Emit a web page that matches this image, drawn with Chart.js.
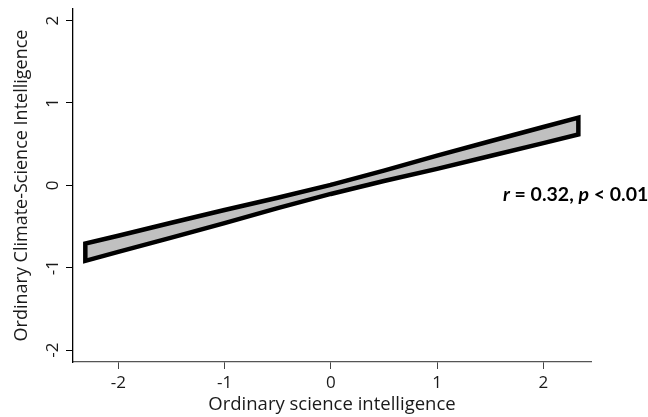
<!DOCTYPE html>
<html><head><meta charset="utf-8">
<script src="https://cdn.jsdelivr.net/npm/chart.js@4"></script>
<style>html,body{margin:0;padding:0;background:#fff}#wrap{width:648px;height:417px;position:relative}</style>
</head><body><div id="wrap"><canvas id="c"></canvas></div>
<script>
// Confidence band
const bandX  = [-2.31, -2, -1.5, -1, -0.5, 0, 0.5, 1, 1.5, 2, 2.33];
const upperY = [-0.707, -0.612, -0.455, -0.30, -0.152, 0.005, 0.178, 0.36, 0.535, 0.708, 0.822];
const lowerY = [-0.917, -0.808, -0.635, -0.46, -0.278, -0.105, 0.052, 0.20, 0.355, 0.512, 0.616];
const xTicks = [-2, -1, 0, 1, 2];
const yTicks = [-2, -1, 0, 1, 2];
const xLabel = 'Ordinary science intelligence';
const yLabel = 'Ordinary Climate-Science Intelligence';
const annParts = ['r', ' = 0.32, ', 'p', ' < 0.01'];
const annItalic = [true, false, true, false];
const annPos = [1.62, -0.13];

const upperPts = bandX.map((x, i) => ({x, y: upperY[i]}));
const lowerPts = bandX.map((x, i) => ({x, y: lowerY[i]}));
const mid = Math.floor(bandX.length / 2);
const outline = [...upperPts.slice(mid), ...lowerPts.slice().reverse(), ...upperPts.slice(0, mid + 1)];

const annPlugin = {
  id: 'ann',
  afterDraw(chart) {
    const {ctx, scales: {x, y}} = chart;
    let px = x.getPixelForValue(annPos[0]);
    const py = y.getPixelForValue(annPos[1]);
    ctx.save();
    ctx.fillStyle = '#000';
    ctx.textBaseline = 'middle';
    ctx.textAlign = 'left';
    annParts.forEach((t, i) => {
      ctx.font = (annItalic[i] ? 'italic ' : '') + 'bold 19.5px Lato';
      ctx.fillText(t, px, py - 1);
      px += ctx.measureText(t).width;
    });
    ctx.restore();
  }
};

new Chart(document.getElementById('c'), {
  type: 'scatter',
  data: {
    datasets: [
      {data: upperPts, showLine: true, borderWidth: 0, pointRadius: 0, fill: '+1', backgroundColor: '#c0c0c0', borderColor: 'rgba(0,0,0,0)', order: 2},
      {data: lowerPts, showLine: true, borderWidth: 0, pointRadius: 0, fill: false, borderColor: 'rgba(0,0,0,0)', order: 3},
      {data: outline, showLine: true, borderWidth: 4.5, borderColor: '#000', borderJoinStyle: 'miter', borderCapStyle: 'round', pointRadius: 0, fill: false, order: 0}
    ]
  },
  options: {
    responsive: true,
    maintainAspectRatio: false,
    animation: false,
    layout: {padding: {top: 9, right: 57, left: 0, bottom: 0}},
    plugins: {legend: {display: false}, tooltip: {enabled: false}},
    scales: {
      x: {
        type: 'linear', min: -2.426, max: 2.449,
        afterBuildTicks: s => { s.ticks = xTicks.map(v => ({value: v})); },
        afterFit: s => { s.height = 55; s.paddingLeft = 0; s.paddingRight = 0; },
        ticks: {font: {family: 'Open Sans', size: 17}, color: '#1a1a1a', padding: 4},
        grid: {drawOnChartArea: false, drawTicks: true, tickLength: 7, color: '#444'},
        border: {display: true, color: '#555', width: 1.3},
        title: {display: true, text: xLabel, font: {family: 'Open Sans', size: 18.5}, color: '#1a1a1a', padding: {top: 0, bottom: 1}}
      },
      y: {
        type: 'linear', min: -2.145, max: 2.14,
        afterBuildTicks: s => { s.ticks = yTicks.map(v => ({value: v})); },
        afterFit: s => { s.width = 73; s.paddingTop = 0; s.paddingBottom = 0; },
        ticks: {font: {family: 'Open Sans', size: 17}, color: '#1a1a1a', padding: 5, minRotation: 90, maxRotation: 90, crossAlign: 'center'},
        grid: {drawOnChartArea: false, drawTicks: true, tickLength: 7, color: '#000'},
        border: {display: true, color: '#000', width: 1.3},
        title: {display: true, text: yLabel, font: {family: 'Open Sans', size: 18}, color: '#1a1a1a', padding: {top: 11, bottom: 0}}
      }
    }
  },
  plugins: [annPlugin]
});
</script>
</body></html>
